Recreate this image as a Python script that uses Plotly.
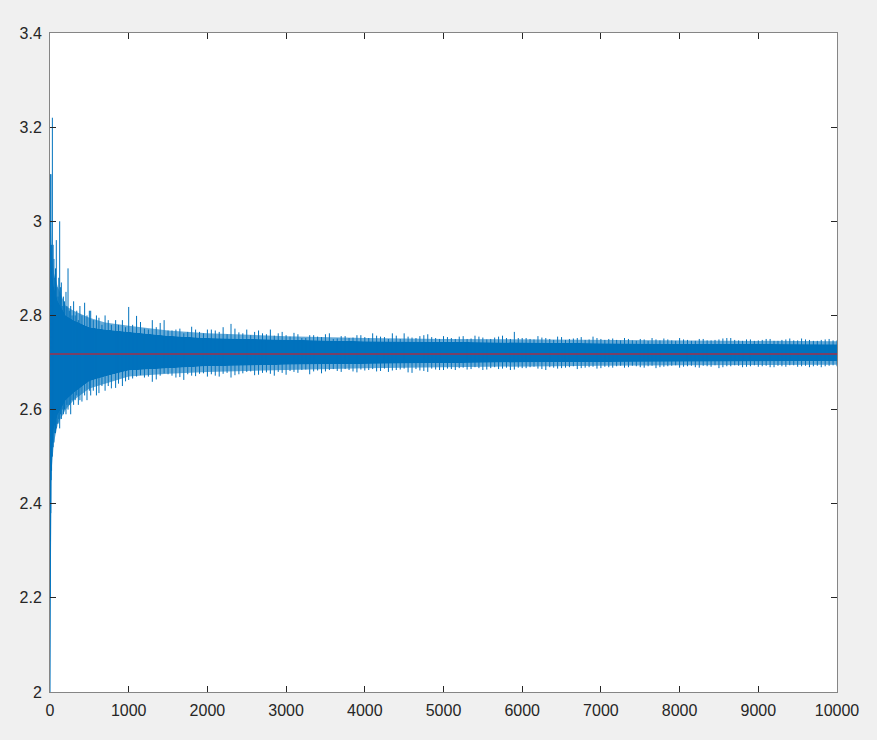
import plotly.graph_objects as go

# Sample positions (trial index) where the extremes of the noisy estimate were read
trial_x = [1, 3, 6, 10, 15, 20, 30, 40, 50, 60, 70, 80, 90, 102, 112, 123, 135, 144, 155, 170,
           185, 203, 215, 229, 245, 263, 280, 300, 320, 340, 360, 380, 406, 440, 470, 500, 517, 550,
           590, 622, 660, 700, 740, 780, 834, 870, 920, 960, 1000,
           1100, 1200, 1300, 1400, 1500, 1600, 1700, 1800, 1900, 2000,
           2100, 2200, 2300, 2400, 2500, 2600, 2700, 2800, 2900, 3000,
           3100, 3200, 3300, 3400, 3500, 3600, 3700, 3800, 3900, 4000,
           4100, 4200, 4300, 4400, 4500, 4600, 4700, 4800, 4900, 5000,
           5100, 5200, 5300, 5400, 5500, 5600, 5700, 5800, 5900, 6000,
           6100, 6200, 6300, 6400, 6500, 6600, 6700, 6800, 6900, 7000,
           7100, 7200, 7300, 7400, 7500, 7600, 7700, 7800, 7900, 8000,
           8100, 8200, 8300, 8400, 8500, 8600, 8700, 8800, 8900, 9000,
           9100, 9200, 9300, 9400, 9500, 9600, 9700, 9800, 9900, 10000]

upper_vals = [2.00, 2.75, 2.95, 3.10, 2.90, 2.95, 3.22, 2.95, 2.92, 2.88, 2.90, 2.96, 2.86, 2.84, 2.88,
              3.00, 2.86, 2.87, 2.82, 2.84, 2.83, 2.85, 2.82, 2.90, 2.81, 2.82, 2.80, 2.83, 2.80, 2.81,
              2.79, 2.82, 2.80, 2.827, 2.80, 2.81, 2.81, 2.79, 2.80, 2.795, 2.78, 2.80, 2.79, 2.78,
              2.79, 2.78, 2.79, 2.775, 2.818,
              2.799, 2.772, 2.790, 2.784, 2.768, 2.770, 2.762, 2.776, 2.765, 2.770,
              2.768, 2.775, 2.782, 2.764, 2.770, 2.765, 2.762, 2.770, 2.762, 2.758,
              2.763, 2.752, 2.758, 2.755, 2.760, 2.750, 2.756, 2.752, 2.758, 2.754,
              2.762, 2.755, 2.750, 2.757, 2.762, 2.753, 2.756, 2.760, 2.752, 2.756,
              2.752, 2.755, 2.750, 2.757, 2.753, 2.750, 2.755, 2.752, 2.765, 2.752,
              2.750, 2.756, 2.752, 2.748, 2.754, 2.750, 2.752, 2.748, 2.755, 2.750,
              2.750, 2.748, 2.752, 2.747, 2.750, 2.746, 2.749, 2.751, 2.747, 2.752,
              2.748, 2.746, 2.750, 2.747, 2.749, 2.752, 2.748, 2.746, 2.749, 2.747,
              2.750, 2.746, 2.748, 2.751, 2.747, 2.749, 2.746, 2.748, 2.750, 2.747]

lower_vals = [2.00, 2.20, 2.32, 2.38, 2.45, 2.47, 2.50, 2.52, 2.53, 2.55, 2.55, 2.56, 2.57, 2.57, 2.58,
              2.56, 2.59, 2.58, 2.60, 2.59, 2.60, 2.59, 2.61, 2.60, 2.61, 2.59, 2.62, 2.61, 2.62, 2.63,
              2.61, 2.62, 2.617, 2.63, 2.62, 2.64, 2.63, 2.64, 2.63, 2.635, 2.65, 2.64, 2.65, 2.645,
              2.646, 2.655, 2.65, 2.66, 2.663,
              2.670, 2.668, 2.659, 2.672, 2.675, 2.668, 2.663, 2.672, 2.676, 2.670,
              2.672, 2.676, 2.668, 2.675, 2.680, 2.673, 2.678, 2.676, 2.680, 2.674,
              2.680, 2.684, 2.675, 2.683, 2.681, 2.686, 2.680, 2.684, 2.679, 2.683,
              2.686, 2.682, 2.680, 2.684, 2.687, 2.678, 2.683, 2.680, 2.685, 2.684,
              2.686, 2.688, 2.685, 2.690, 2.684, 2.688, 2.686, 2.689, 2.685, 2.688,
              2.690, 2.687, 2.684, 2.689, 2.688, 2.690, 2.686, 2.689, 2.691, 2.688,
              2.690, 2.692, 2.689, 2.693, 2.690, 2.692, 2.688, 2.691, 2.693, 2.689,
              2.692, 2.690, 2.693, 2.691, 2.688, 2.692, 2.694, 2.690, 2.692, 2.691,
              2.693, 2.690, 2.692, 2.694, 2.691, 2.693, 2.692, 2.690, 2.693, 2.692]

# Extra extremes read between the samples above (x = 1050, 1150, ..., 9950)
mid_x = [1050, 1150, 1250, 1350, 1450, 1550, 1650, 1750, 1850, 1950,
         2050, 2150, 2250, 2350, 2450, 2550, 2650, 2750, 2850, 2950,
         3050, 3150, 3250, 3350, 3450, 3550, 3650, 3750, 3850, 3950,
         4050, 4150, 4250, 4350, 4450, 4550, 4650, 4750, 4850, 4950,
         5050, 5150, 5250, 5350, 5450, 5550, 5650, 5750, 5850, 5950,
         6050, 6150, 6250, 6350, 6450, 6550, 6650, 6750, 6850, 6950,
         7050, 7150, 7250, 7350, 7450, 7550, 7650, 7750, 7850, 7950,
         8050, 8150, 8250, 8350, 8450, 8550, 8650, 8750, 8850, 8950,
         9050, 9150, 9250, 9350, 9450, 9550, 9650, 9750, 9850, 9950]
mid_up = [2.780, 2.786, 2.770, 2.775, 2.790, 2.768, 2.772, 2.765, 2.770, 2.762,
          2.770, 2.765, 2.760, 2.772, 2.762, 2.758, 2.768, 2.760, 2.757, 2.765,
          2.755, 2.760, 2.752, 2.758, 2.754, 2.762, 2.751, 2.756, 2.753, 2.758,
          2.752, 2.757, 2.754, 2.762, 2.750, 2.755, 2.752, 2.758, 2.754, 2.750,
          2.754, 2.750, 2.756, 2.751, 2.755, 2.749, 2.753, 2.757, 2.750, 2.752,
          2.752, 2.749, 2.753, 2.750, 2.755, 2.748, 2.751, 2.754, 2.749, 2.752,
          2.748, 2.751, 2.747, 2.750, 2.746, 2.749, 2.752, 2.747, 2.749, 2.746,
          2.749, 2.746, 2.750, 2.747, 2.748, 2.751, 2.752, 2.747, 2.749, 2.746,
          2.748, 2.750, 2.746, 2.749, 2.747, 2.751, 2.748, 2.746, 2.749, 2.747]
mid_lo = [2.666, 2.673, 2.670, 2.664, 2.677, 2.672, 2.669, 2.675, 2.671, 2.677,
          2.675, 2.670, 2.678, 2.673, 2.677, 2.681, 2.674, 2.679, 2.672, 2.678,
          2.682, 2.678, 2.685, 2.681, 2.677, 2.684, 2.682, 2.686, 2.681, 2.685,
          2.684, 2.681, 2.687, 2.683, 2.685, 2.679, 2.686, 2.682, 2.687, 2.684,
          2.687, 2.684, 2.689, 2.686, 2.688, 2.685, 2.690, 2.687, 2.684, 2.689,
          2.688, 2.691, 2.686, 2.690, 2.687, 2.689, 2.692, 2.688, 2.690, 2.687,
          2.691, 2.689, 2.693, 2.690, 2.692, 2.689, 2.693, 2.690, 2.692, 2.694,
          2.691, 2.693, 2.689, 2.692, 2.694, 2.690, 2.692, 2.693, 2.691, 2.694,
          2.692, 2.690, 2.693, 2.691, 2.694, 2.692, 2.690, 2.693, 2.692, 2.694]

# Dense core of the band (where the trace fills solidly) and its feathered fringe
core_x = [1, 10, 20, 50, 100, 200, 300, 500, 700, 1000, 1500, 2000, 3000, 4000, 5000, 6000, 7000,
          8000, 9000, 10000]
core_up = [2.00, 2.95, 2.90, 2.86, 2.83, 2.80, 2.79, 2.775, 2.77, 2.765, 2.757, 2.752, 2.748, 2.745,
           2.744, 2.742, 2.741, 2.740, 2.739, 2.739]
core_lo = [2.00, 2.42, 2.50, 2.56, 2.59, 2.62, 2.635, 2.66, 2.67, 2.683, 2.688, 2.692, 2.695, 2.697,
           2.699, 2.700, 2.701, 2.702, 2.702, 2.703]
fringe_up = [2.00, 3.00, 2.94, 2.89, 2.86, 2.82, 2.81, 2.795, 2.785, 2.778, 2.768, 2.762, 2.756, 2.752,
             2.750, 2.749, 2.747, 2.746, 2.745, 2.745]
fringe_lo = [2.00, 2.36, 2.47, 2.53, 2.57, 2.60, 2.62, 2.645, 2.655, 2.670, 2.676, 2.680, 2.684, 2.688,
             2.690, 2.692, 2.693, 2.694, 2.695, 2.695]

ref_x = [0, 10000]
ref_value = 2.71828

BLUE = "#0072BD"
BLUE_SOFT = "rgba(0,114,189,0.6)"

# each read extreme pair drawn as a thin vertical stroke
line_x, line_y = [], []
for xv, u, l in list(zip(trial_x, upper_vals, lower_vals)) + list(zip(mid_x, mid_up, mid_lo)):
    line_x += [xv, xv, None]
    line_y += [u, l, None]

fig = go.Figure()
fig.add_trace(go.Scatter(x=core_x, y=fringe_lo, mode="lines", line=dict(width=0),
                         hoverinfo="skip", showlegend=False))
fig.add_trace(go.Scatter(x=core_x, y=core_lo, mode="lines", line=dict(width=0),
                         fill="tonexty", fillcolor=BLUE_SOFT, hoverinfo="skip", showlegend=False))
fig.add_trace(go.Scatter(x=core_x, y=core_up, mode="lines", line=dict(width=0),
                         fill="tonexty", fillcolor=BLUE, hoverinfo="skip", showlegend=False))
fig.add_trace(go.Scatter(x=core_x, y=fringe_up, mode="lines", line=dict(width=0),
                         fill="tonexty", fillcolor=BLUE_SOFT, hoverinfo="skip", showlegend=False))
fig.add_trace(go.Scatter(x=line_x, y=line_y, mode="lines", line=dict(color=BLUE, width=1),
                         connectgaps=False, hoverinfo="skip", showlegend=False))
fig.add_trace(go.Scatter(x=[0, 1, 3, 6, 10], y=[2.00, 2.00, 2.75, 2.32, 3.10], mode="lines",
                         line=dict(color=BLUE, width=1), hoverinfo="skip", showlegend=False))
fig.add_trace(go.Scatter(x=ref_x, y=[ref_value, ref_value], mode="lines",
                         line=dict(color="#A0304A", width=1.5), hoverinfo="skip", showlegend=False))

axis_common = dict(showline=True, linecolor="#858585", linewidth=1, mirror="allticks",
                   ticks="inside", ticklen=6, tickcolor="#262626", tickwidth=1,
                   showgrid=False, zeroline=False, automargin=False,
                   tickfont=dict(family="Liberation Sans, Arial, sans-serif", size=16, color="#262626"))

fig.update_layout(
    width=877, height=740,
    paper_bgcolor="#F0F0F0", plot_bgcolor="#FFFFFF",
    margin=dict(l=50, r=40, t=33, b=48),
    showlegend=False,
    hovermode=False,
    xaxis=dict(range=[0, 10000], tickmode="linear", tick0=0, dtick=1000, tickformat="d",
               ticklabelstandoff=4, **axis_common),
    yaxis=dict(range=[2, 3.4], tickmode="linear", tick0=2, dtick=0.2, ticklabelstandoff=4,
               **axis_common),
)

fig.write_html(
    "out.html",
    config={"displayModeBar": False},
    post_script="document.body.style.margin='0';document.body.style.overflow='hidden';"
                "document.body.style.background='#F0F0F0';",
)
